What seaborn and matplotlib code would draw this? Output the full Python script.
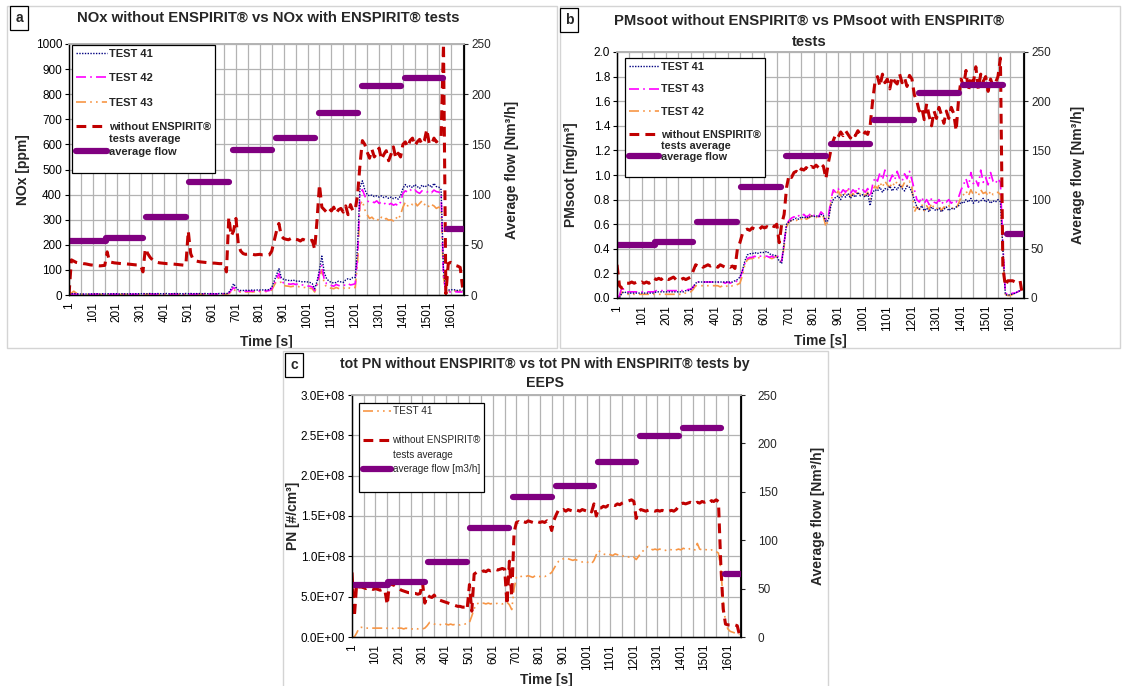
import numpy as np
import pandas as pd
import matplotlib
matplotlib.use("Agg")
import matplotlib.pyplot as plt
from matplotlib.lines import Line2D
from matplotlib.patches import Rectangle
from matplotlib.ticker import FixedLocator, FuncFormatter, MultipleLocator
import seaborn as sns

# ---------------- data (sampled every 10 s) ----------------
time_s = list(range(1, 1652, 10))
x_tick_values = list(range(1, 1602, 100))
x_minor_values = list(range(51, 1652, 100))

nox_without = [
    0, 140, 135, 130, 128, 127, 125, 124, 122, 120,
    119, 118, 117, 116, 117, 118, 172, 132, 130, 128,
    127, 126, 125, 125, 124, 123, 122, 121, 120, 120,
    118, 92, 185, 165, 150, 140, 134, 130, 128, 127,
    126, 125, 125, 124, 123, 122, 121, 120, 119, 120,
    255, 165, 142, 136, 134, 132, 131, 130, 129, 128,
    127, 127, 126, 125, 125, 124, 92, 310, 235, 255,
    305, 200, 175, 165, 162, 163, 160, 162, 160, 161,
    162, 160, 160, 158, 160, 175, 215, 255, 285, 235,
    225, 222, 220, 225, 218, 222, 220, 215, 222, 218,
    220, 215, 218, 182, 300, 440, 350, 340, 330, 345,
    335, 350, 325, 340, 345, 330, 355, 320, 360, 335,
    340, 400, 520, 615, 600, 570, 545, 580, 550, 565,
    585, 540, 560, 575, 535, 560, 590, 545, 565, 550,
    600, 610, 590, 615, 625, 595, 610, 620, 600, 615,
    660, 605, 600, 625, 610, 620, 630, 1000, 5, 125,
    130, 125, 118, 115, 110, 30]
nox_test41 = [
    0, 5, 6, 5, 4, 4, 4, 4, 4, 4,
    5, 4, 5, 4, 5, 4, 5, 5, 4, 5,
    5, 4, 5, 5, 4, 5, 5, 4, 5, 5,
    5, 6, 5, 5, 6, 5, 5, 6, 5, 5,
    5, 6, 5, 5, 6, 5, 6, 5, 5, 6,
    5, 6, 5, 6, 5, 6, 5, 6, 5, 6,
    5, 5, 5, 6, 6, 6, 5, 10, 25, 45,
    30, 20, 18, 18, 19, 18, 19, 20, 19, 20,
    20, 20, 21, 20, 22, 30, 55, 80, 105, 70,
    62, 60, 58, 57, 60, 55, 56, 54, 52, 53,
    52, 50, 45, 25, 55, 100, 155, 90, 65, 55,
    50, 48, 50, 55, 52, 50, 60, 65, 62, 70,
    70, 200, 430, 455, 420, 400, 395, 398, 392, 395,
    390, 395, 388, 392, 385, 390, 384, 388, 382, 395,
    425, 440, 430, 435, 428, 440, 432, 425, 438, 430,
    435, 440, 428, 445, 432, 430, 420, 100, 15, 20,
    20, 22, 20, 18, 20, 18]
nox_test42 = [
    0, 3, 4, 3, 3, 3, 3, 3, 3, 3,
    3, 3, 4, 3, 3, 4, 3, 3, 4, 3,
    3, 4, 3, 3, 4, 3, 3, 4, 3, 3,
    3, 4, 4, 3, 4, 4, 3, 4, 4, 3,
    4, 4, 3, 4, 4, 3, 4, 4, 3, 4,
    4, 4, 3, 4, 4, 3, 4, 4, 3, 4,
    4, 4, 4, 4, 5, 5, 4, 8, 18, 30,
    22, 15, 15, 14, 15, 15, 16, 15, 16, 16,
    16, 16, 17, 16, 18, 25, 45, 65, 85, 55,
    48, 45, 44, 43, 45, 42, 44, 40, 40, 38,
    36, 35, 32, 18, 45, 85, 120, 60, 45, 40,
    38, 35, 42, 38, 36, 40, 38, 45, 40, 42,
    45, 160, 400, 420, 395, 375, 370, 372, 368, 375,
    365, 370, 362, 368, 360, 365, 358, 362, 355, 370,
    405, 415, 410, 420, 412, 418, 410, 405, 415, 412,
    410, 415, 408, 418, 412, 410, 405, 80, 10, 12,
    12, 12, 13, 12, 12, 12]
nox_test43 = [
    0, 8, 15, 8, 4, 3, 3, 3, 3, 3,
    3, 3, 3, 2, 3, 3, 3, 2, 3, 3,
    3, 2, 3, 3, 3, 2, 3, 3, 3, 3,
    3, 3, 3, 4, 3, 3, 3, 4, 3, 3,
    3, 4, 3, 3, 4, 3, 3, 4, 3, 3,
    3, 4, 3, 3, 4, 3, 3, 4, 3, 3,
    3, 3, 3, 4, 4, 4, 3, 6, 12, 22,
    16, 12, 12, 11, 12, 12, 13, 12, 13, 13,
    13, 13, 14, 13, 15, 20, 38, 55, 70, 45,
    38, 36, 35, 33, 35, 32, 34, 31, 30, 30,
    28, 27, 25, 12, 38, 72, 100, 45, 32, 28,
    27, 25, 30, 26, 24, 28, 25, 30, 26, 28,
    30, 130, 360, 375, 340, 320, 305, 310, 300, 305,
    295, 310, 300, 305, 298, 300, 295, 310, 300, 320,
    350, 370, 355, 365, 360, 370, 355, 365, 375, 360,
    365, 350, 360, 355, 345, 350, 345, 70, 12, 15,
    15, 15, 16, 15, 15, 14]

pm_without = [
    0.27, 0.10, 0.08, 0.10, 0.12, 0.12, 0.13, 0.12, 0.13, 0.12,
    0.13, 0.12, 0.13, 0.12, 0.13, 0.16, 0.15, 0.16, 0.15, 0.17,
    0.16, 0.15, 0.16, 0.17, 0.15, 0.16, 0.15, 0.16, 0.15, 0.16,
    0.17, 0.22, 0.27, 0.26, 0.27, 0.25, 0.26, 0.27, 0.26, 0.27,
    0.26, 0.25, 0.27, 0.26, 0.25, 0.26, 0.25, 0.26, 0.24, 0.40,
    0.45, 0.52, 0.55, 0.56, 0.55, 0.57, 0.56, 0.57, 0.56, 0.58,
    0.57, 0.58, 0.57, 0.59, 0.58, 0.60, 0.45, 0.60, 0.68, 0.90,
    1.00, 0.98, 1.02, 1.03, 1.01, 1.05, 1.04, 1.06, 1.04, 1.07,
    1.06, 1.08, 1.06, 1.09, 1.07, 0.97, 1.10, 1.20, 1.28, 1.33,
    1.31, 1.35, 1.32, 1.36, 1.33, 1.30, 1.34, 1.32, 1.36, 1.33,
    1.32, 1.35, 1.33, 1.40, 1.60, 1.76, 1.80, 1.72, 1.82, 1.75,
    1.78, 1.70, 1.80, 1.76, 1.74, 1.82, 1.75, 1.79, 1.72, 1.81,
    1.78, 1.65, 1.60, 1.52, 1.55, 1.45, 1.58, 1.48, 1.40, 1.52,
    1.46, 1.55, 1.49, 1.42, 1.52, 1.46, 1.55, 1.50, 1.36, 1.62,
    1.78, 1.72, 1.85, 1.68, 1.80, 1.75, 1.88, 1.70, 1.82, 1.76,
    1.80, 1.68, 1.78, 1.72, 1.75, 1.80, 1.95, 0.25, 0.10, 0.14,
    0.14, 0.14, 0.13, 0.14, 0.14, 0.02]
pm_test41 = [
    0.00, 0.00, 0.04, 0.05, 0.04, 0.04, 0.04, 0.04, 0.04, 0.04,
    0.04, 0.04, 0.04, 0.04, 0.04, 0.04, 0.05, 0.05, 0.05, 0.05,
    0.05, 0.05, 0.05, 0.05, 0.05, 0.05, 0.05, 0.05, 0.06, 0.06,
    0.07, 0.09, 0.12, 0.13, 0.13, 0.13, 0.13, 0.13, 0.13, 0.13,
    0.13, 0.13, 0.13, 0.13, 0.13, 0.13, 0.13, 0.13, 0.14, 0.15,
    0.17, 0.22, 0.30, 0.35, 0.36, 0.36, 0.37, 0.36, 0.37, 0.37,
    0.37, 0.38, 0.36, 0.35, 0.35, 0.34, 0.30, 0.28, 0.45, 0.60,
    0.62, 0.63, 0.64, 0.65, 0.64, 0.66, 0.65, 0.66, 0.65, 0.67,
    0.66, 0.67, 0.66, 0.68, 0.67, 0.62, 0.63, 0.75, 0.80, 0.82,
    0.83, 0.80, 0.84, 0.82, 0.85, 0.81, 0.84, 0.82, 0.86, 0.83,
    0.84, 0.82, 0.85, 0.75, 0.86, 0.88, 0.87, 0.90, 0.86, 0.89,
    0.88, 0.91, 0.87, 0.90, 0.88, 0.92, 0.89, 0.87, 0.91, 0.90,
    0.86, 0.80, 0.74, 0.72, 0.75, 0.71, 0.73, 0.70, 0.74, 0.72,
    0.71, 0.73, 0.70, 0.72, 0.74, 0.71, 0.73, 0.72, 0.74, 0.75,
    0.78, 0.77, 0.80, 0.78, 0.81, 0.77, 0.80, 0.78, 0.79, 0.81,
    0.78, 0.80, 0.77, 0.79, 0.78, 0.80, 0.78, 0.40, 0.03, 0.02,
    0.03, 0.03, 0.04, 0.05, 0.06, 0.08]
pm_test43 = [
    0.00, 0.02, 0.09, 0.06, 0.05, 0.05, 0.05, 0.05, 0.05, 0.05,
    0.05, 0.05, 0.05, 0.05, 0.05, 0.05, 0.06, 0.06, 0.06, 0.06,
    0.06, 0.06, 0.06, 0.06, 0.06, 0.06, 0.06, 0.06, 0.06, 0.07,
    0.07, 0.09, 0.12, 0.13, 0.13, 0.13, 0.13, 0.13, 0.13, 0.13,
    0.13, 0.13, 0.12, 0.13, 0.12, 0.13, 0.12, 0.13, 0.13, 0.14,
    0.16, 0.22, 0.28, 0.32, 0.33, 0.33, 0.34, 0.33, 0.34, 0.34,
    0.34, 0.34, 0.33, 0.34, 0.33, 0.35, 0.32, 0.30, 0.45, 0.60,
    0.63, 0.65, 0.66, 0.65, 0.67, 0.66, 0.68, 0.66, 0.67, 0.69,
    0.67, 0.68, 0.66, 0.70, 0.68, 0.64, 0.66, 0.80, 0.88, 0.86,
    0.89, 0.85, 0.88, 0.86, 0.90, 0.85, 0.88, 0.86, 0.90, 0.87,
    0.88, 0.86, 0.89, 0.82, 0.92, 0.98, 0.95, 1.02, 0.96, 1.04,
    0.98, 0.95, 1.00, 0.96, 1.03, 0.97, 0.95, 1.01, 0.97, 1.03,
    0.96, 0.88, 0.80, 0.78, 0.82, 0.77, 0.80, 0.76, 0.81, 0.78,
    0.77, 0.80, 0.76, 0.79, 0.78, 0.80, 0.77, 0.79, 0.78, 0.82,
    0.88, 0.92, 0.97, 0.90, 1.02, 0.93, 0.96, 0.91, 1.04, 0.94,
    0.98, 0.92, 1.02, 0.95, 0.93, 0.97, 0.94, 0.45, 0.04, 0.03,
    0.03, 0.04, 0.04, 0.05, 0.06, 0.08]
pm_test42 = [
    0.00, 0.01, 0.05, 0.04, 0.03, 0.03, 0.03, 0.03, 0.03, 0.03,
    0.03, 0.03, 0.03, 0.03, 0.03, 0.03, 0.03, 0.03, 0.03, 0.03,
    0.03, 0.03, 0.03, 0.03, 0.03, 0.03, 0.03, 0.04, 0.04, 0.04,
    0.05, 0.07, 0.10, 0.10, 0.10, 0.10, 0.10, 0.10, 0.10, 0.10,
    0.10, 0.10, 0.09, 0.10, 0.09, 0.10, 0.09, 0.10, 0.10, 0.11,
    0.12, 0.18, 0.27, 0.31, 0.32, 0.32, 0.33, 0.32, 0.33, 0.33,
    0.33, 0.32, 0.33, 0.32, 0.33, 0.34, 0.31, 0.29, 0.42, 0.58,
    0.62, 0.63, 0.64, 0.63, 0.65, 0.64, 0.66, 0.64, 0.65, 0.67,
    0.65, 0.66, 0.64, 0.68, 0.66, 0.58, 0.64, 0.78, 0.86, 0.84,
    0.87, 0.83, 0.86, 0.84, 0.88, 0.82, 0.85, 0.83, 0.87, 0.84,
    0.85, 0.83, 0.86, 0.80, 0.88, 0.91, 0.89, 0.94, 0.90, 0.95,
    0.92, 0.90, 0.94, 0.91, 0.95, 0.92, 0.90, 0.94, 0.91, 0.95,
    0.90, 0.70, 0.74, 0.72, 0.76, 0.71, 0.75, 0.72, 0.77, 0.73,
    0.72, 0.75, 0.71, 0.74, 0.73, 0.75, 0.72, 0.74, 0.73, 0.77,
    0.82, 0.84, 0.87, 0.83, 0.88, 0.84, 0.86, 0.83, 0.88, 0.85,
    0.86, 0.83, 0.87, 0.84, 0.85, 0.86, 0.84, 0.35, 0.03, 0.02,
    0.02, 0.03, 0.04, 0.05, 0.06, 0.07]

# particle number, in units of 1e6 #/cm3
pn_without_1e6 = [
    80, 25, 66, 62, 62, 61, 60, 61, 60, 59,
    60, 59, 58, 59, 58, 40, 68, 65, 64, 62,
    60, 58, 57, 56, 55, 55, 54, 54, 53, 54,
    68, 42, 52, 50, 49, 52, 47, 46, 45, 44,
    43, 42, 41, 40, 39, 38, 38, 37, 37, 34,
    65, 32, 78, 80, 81, 80, 82, 81, 83, 82,
    83, 84, 83, 84, 85, 84, 40, 94, 50, 130,
    142, 143, 141, 143, 142, 144, 143, 142, 144, 143,
    142, 143, 142, 144, 142, 132, 145, 152, 158, 157,
    158, 156, 158, 157, 156, 158, 157, 156, 158, 157,
    156, 158, 155, 165, 150, 160, 160, 162, 161, 163,
    162, 164, 163, 165, 164, 166, 167, 168, 169, 170,
    168, 147, 156, 158, 157, 156, 157, 158, 157, 156,
    157, 156, 157, 156, 157, 156, 157, 156, 158, 162,
    165, 166, 165, 166, 167, 166, 165, 167, 166, 168,
    167, 168, 166, 169, 168, 170, 168, 90, 35, 16,
    15, 15, 16, 15, 14, 2]
pn_test41_1e6 = [
    0, 0, 5, 11, 12, 12, 11, 11, 11, 11,
    11, 11, 11, 11, 10, 11, 11, 11, 10, 11,
    11, 11, 10, 11, 10, 10, 10, 11, 10, 10,
    10, 11, 14, 18, 17, 16, 16, 16, 15, 16,
    16, 15, 16, 15, 16, 15, 15, 16, 16, 17,
    18, 26, 35, 41, 42, 41, 42, 41, 42, 41,
    42, 41, 42, 42, 41, 42, 43, 40, 34, 60,
    74, 76, 75, 76, 75, 76, 75, 74, 76, 75,
    75, 76, 75, 76, 78, 80, 85, 90, 94, 96,
    97, 98, 97, 96, 95, 96, 95, 94, 93, 94,
    93, 92, 91, 95, 102, 107, 105, 103, 102, 103,
    102, 101, 103, 102, 101, 100, 101, 100, 99, 100,
    99, 96, 100, 104, 107, 110, 112, 110, 108, 109,
    108, 109, 108, 107, 108, 109, 108, 107, 108, 109,
    108, 110, 109, 108, 110, 109, 108, 116, 109, 108,
    109, 108, 107, 108, 107, 106, 104, 85, 45, 18,
    10, 7, 6, 5, 4, 3]

# average exhaust flow steps [Nm3/h]
flow_start = [1, 155, 325, 505, 688, 870, 1048, 1229, 1410, 1587]
flow_end = [155, 310, 490, 670, 852, 1031, 1211, 1391, 1570, 1657]
flow_value = [54, 57, 77.5, 112.5, 144.5, 156, 181, 208, 216, 65.5]

# ---------------- styling ----------------
sns.set_theme(style="white")
plt.rcParams['font.family'] = ['Liberation Sans', 'DejaVu Sans']
plt.rcParams['axes.unicode_minus'] = False

RED = '#C00000'
NAVY = '#000080'
MAGENTA = '#FF00FF'
ORANGE = '#F79646'
PURPLE = '#800080'
GRID = '#B3B3B3'

STY = {
    'red': dict(color=RED, lw=2.2, linestyle=(0, (3.2, 2.0))),
    'navy': dict(color=NAVY, lw=1.0, linestyle=(0, (1, 1))),
    'magenta': dict(color=MAGENTA, lw=1.2, linestyle=(0, (6, 2.5, 1, 2.5))),
    'orange': dict(color=ORANGE, lw=1.2, linestyle=(0, (6, 2.5, 1, 2.5, 1, 2.5))),
    'flow': dict(color=PURPLE, lw=4.5, linestyle='-', solid_capstyle='round'),
}

W, H = 1123, 686
fig = plt.figure(figsize=(W / 100, H / 100), dpi=100)


def px_axes(left, right, top, bottom):
    return fig.add_axes([left / W, 1 - bottom / H, (right - left) / W, (bottom - top) / H])


flow_rows = []
for i, (s, e, v) in enumerate(zip(flow_start, flow_end, flow_value)):
    flow_rows.append((i, s, v))
    flow_rows.append((i, e, v))
flow_df = pd.DataFrame(flow_rows, columns=['seg', 't', 'flow'])


def panel(ax, series, ylim, ystep, ylabel, yfmt, label_x, rlabel_x, xlabel_y,
          legend_entries, legend_anchor, legend_bold, legend_fs, legend_spacing,
          rpad=2):
    df = pd.DataFrame({'t': time_s})
    for name, vals, sty in series:
        df[name] = vals
    for name, vals, sty in series[::-1]:
        sns.lineplot(data=df, x='t', y=name, ax=ax, legend=False, estimator=None,
                     **STY[sty])
    ax.set_xlim(1, 1657)
    ax.set_ylim(*ylim)
    ax.yaxis.set_major_locator(MultipleLocator(ystep))
    if yfmt is not None:
        ax.yaxis.set_major_formatter(FuncFormatter(yfmt))
    ax.xaxis.set_major_locator(FixedLocator(x_tick_values))
    ax.xaxis.set_minor_locator(FixedLocator(x_minor_values))
    ax.set_xticklabels([str(v) for v in x_tick_values], rotation=90)
    ax.grid(True, which='both', axis='x', color=GRID, lw=0.9)
    ax.grid(True, which='major', axis='y', color=GRID, lw=0.9)
    ax.set_axisbelow(True)
    ax.tick_params(axis='both', which='both', direction='out', length=3, width=0.8,
                   labelsize=8.5, colors='black', pad=2)
    ax.tick_params(axis='x', which='minor', length=3)
    for sp in ['left', 'bottom']:
        ax.spines[sp].set_color('black')
        ax.spines[sp].set_linewidth(0.9)
    ax.spines['top'].set_color(GRID)
    ax.spines['right'].set_color('black')
    ax.set_xlabel('Time [s]', fontsize=10, fontweight='bold')
    ax.xaxis.set_label_coords(0.5, xlabel_y)
    ax.set_ylabel(ylabel, fontsize=10, fontweight='bold')
    ax.yaxis.set_label_coords(label_x, 0.5)

    ax2 = ax.twinx()
    sns.lineplot(data=flow_df, x='t', y='flow', units='seg', estimator=None, ax=ax2,
                 legend=False, **STY['flow'])
    ax2.set_xlim(1, 1657)
    ax2.set_ylim(0, 250)
    ax2.yaxis.set_major_locator(MultipleLocator(50))
    ax2.tick_params(axis='y', direction='out', length=3, width=0.8, labelsize=8.5, pad=rpad)
    ax2.set_ylabel('Average flow [Nm³/h]', fontsize=10, fontweight='bold')
    ax2.yaxis.set_label_coords(rlabel_x, 0.5)
    ax2.grid(False)
    for sp in ['left', 'bottom', 'right']:
        ax2.spines[sp].set_color('black')
        ax2.spines[sp].set_linewidth(0.9)
    ax2.spines['top'].set_color(GRID)

    handles, labels = [], []
    for lab, sty in legend_entries:
        if sty is None:
            handles.append(Line2D([], [], linestyle='none'))
        else:
            handles.append(Line2D([], [], **STY[sty]))
        labels.append(lab)
    leg = ax2.legend(handles, labels, loc='upper left', bbox_to_anchor=legend_anchor,
                     borderaxespad=0, frameon=True, fancybox=False, framealpha=1,
                     edgecolor='black', handlelength=2.8, handletextpad=0.2,
                     borderpad=0.35, labelspacing=legend_spacing,
                     prop=dict(size=legend_fs, weight='bold' if legend_bold else 'normal'))
    leg.get_frame().set_linewidth(0.9)
    leg.set_zorder(20)
    return ax2


# panel borders
for (l, t, r, b) in [(7, 6, 557, 348), (560, 6, 1120, 348), (283, 351, 828, 690)]:
    fig.add_artist(Rectangle((l / W, 1 - b / H), (r - l) / W, (b - t) / H,
                             transform=fig.transFigure, fill=False, ec='#D4D4D4', lw=1.0))

# ---------------- panel a ----------------
ax_a = px_axes(69, 464, 44, 295)
panel(ax_a,
      [('without', nox_without, 'red'), ('t41', nox_test41, 'navy'),
       ('t42', nox_test42, 'magenta'), ('t43', nox_test43, 'orange')],
      (0, 1000), 100, 'NOx [ppm]', None, -0.10, 1.105, -0.16,
      [('TEST 41', 'navy'), (' ', None), ('TEST 42', 'magenta'), (' ', None),
       ('TEST 43', 'orange'), (' ', None), ('without ENSPIRIT®', 'red'),
       ('tests average', None), ('average flow', 'flow'), (' ', None)],
      (0.008, 0.996), True, 8.0, 0.2)

# ---------------- panel b ----------------
ax_b = px_axes(617, 1024, 52, 298)
panel(ax_b,
      [('without', pm_without, 'red'), ('t41', pm_test41, 'navy'),
       ('t43', pm_test43, 'magenta'), ('t42', pm_test42, 'orange')],
      (0, 2.0), 0.2, 'PMsoot [mg/m³]', lambda v, p: f'{v:.1f}', -0.095, 1.115, -0.146,
      [('TEST 41', 'navy'), (' ', None), ('TEST 43', 'magenta'), (' ', None),
       ('TEST 42', 'orange'), (' ', None), ('without ENSPIRIT®', 'red'),
       ('tests average', None), ('average flow', 'flow'), (' ', None)],
      (0.02, 0.976), True, 7.8, 0.12)

# ---------------- panel c ----------------
ax_c = px_axes(352, 741, 395, 637)
panel(ax_c,
      [('without', [v * 1e6 for v in pn_without_1e6], 'red'),
       ('t41', [v * 1e6 for v in pn_test41_1e6], 'orange')],
      (0, 3.0e8), 5.0e7, 'PN [#/cm³]',
      lambda v, p: '%.1E' % v, -0.134, 1.18, -0.149,
      [('TEST 41', 'orange'), (' ', None), ('without ENSPIRIT®', 'red'),
       ('tests average', None), ('average flow [m3/h]', 'flow'), (' ', None)],
      (0.018, 0.967), False, 7.2, 0.45, rpad=9)

# titles and panel letters
fig.text(268 / W, 1 - 18 / H, 'NOx without ENSPIRIT® vs NOx with ENSPIRIT® tests',
         ha='center', va='center', fontsize=10.7, fontweight='bold')
fig.text(809 / W, 1 - 31 / H, 'PMsoot without ENSPIRIT® vs PMsoot with ENSPIRIT®\ntests',
         ha='center', va='center', fontsize=10.7, fontweight='bold', linespacing=1.65)
fig.text(545 / W, 1 - 373.5 / H,
         'tot PN without ENSPIRIT® vs tot PN with ENSPIRIT® tests by\nEEPS',
         ha='center', va='center', fontsize=10.2, fontweight='bold', linespacing=1.45)
for lab, (cx, cy) in zip(['a', 'b', 'c'], [(19, 18), (569, 20), (294, 365)]):
    fig.text(cx / W, 1 - cy / H, lab, ha='center', va='center', fontsize=10,
             fontweight='bold',
             bbox=dict(boxstyle='square,pad=0.35', fc='white', ec='black', lw=0.9))

fig.savefig('out.png', dpi=100)
